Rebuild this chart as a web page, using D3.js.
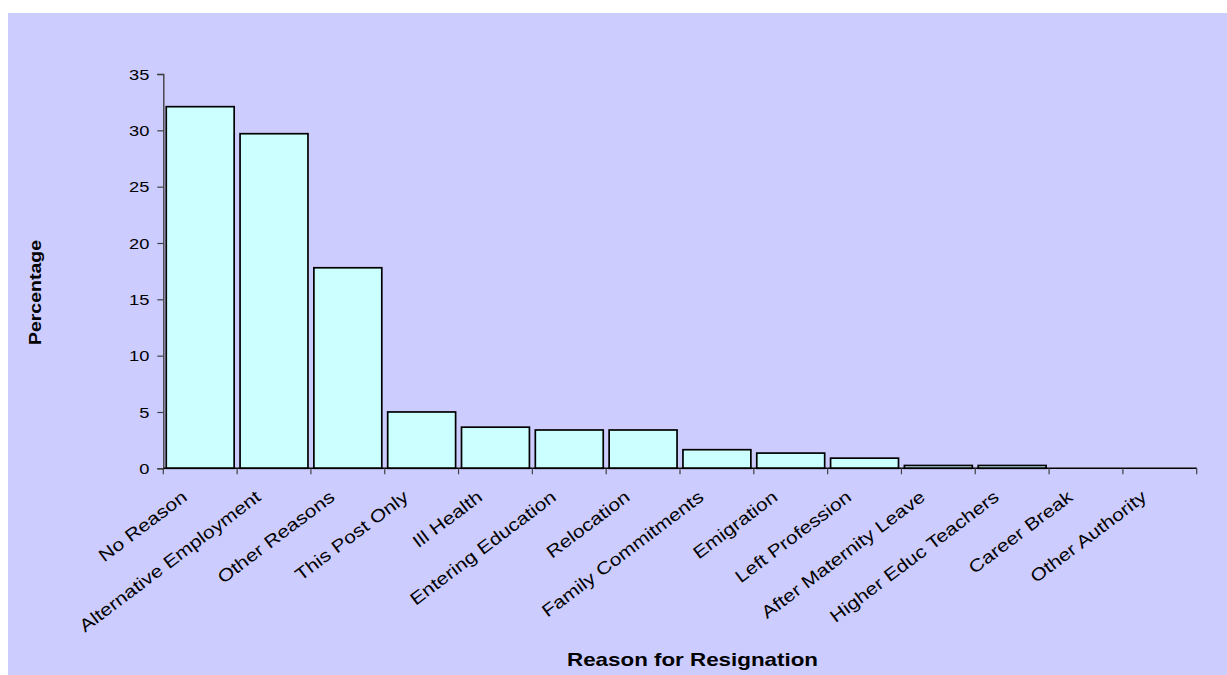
<!DOCTYPE html>
<html>
<head>
<meta charset="utf-8">
<script src="https://cdn.jsdelivr.net/npm/d3@7"></script>
<style>
  html, body { margin: 0; padding: 0; background: #ffffff; }
  svg { display: block; }
  text { font-family: "Liberation Sans", Arial, sans-serif; fill: #000; }
</style>
</head>
<body>
<svg id="chart" width="1227" height="675"></svg>
<script>
const categories = [
  "No Reason", "Alternative Employment", "Other Reasons", "This Post Only",
  "Ill Health", "Entering Education", "Relocation", "Family Commitments",
  "Emigration", "Left Profession", "After Maternity Leave",
  "Higher Educ Teachers", "Career Break", "Other Authority"
];
const percentages = [32.1, 29.7, 17.8, 5.0, 3.65, 3.4, 3.4, 1.65, 1.35, 0.9, 0.25, 0.25, 0, 0];
const yTicks = [0, 5, 10, 15, 20, 25, 30, 35];
const yTitle = "Percentage";
const xTitle = "Reason for Resignation";

const svg = d3.select("#chart");
const W = 1227, H = 675;
const plot = { left: 163.3, right: 1196.7, top: 74, bottom: 468.3 };

// background panel
svg.append("rect").attr("x", 8).attr("y", 13).attr("width", W - 8).attr("height", H - 13)
  .attr("fill", "#CCCCFF");

const x = d3.scaleBand().domain(categories).range([plot.left, plot.right])
  .paddingInner(0.08).paddingOuter(0.04);
const y = d3.scaleLinear().domain([0, 35]).range([plot.bottom, plot.top]);

// bars
svg.append("g").selectAll("rect").data(categories.map((c, i) => ({ c, v: percentages[i] })))
  .join("rect")
  .filter(d => d.v > 0)
  .attr("x", d => x(d.c))
  .attr("y", d => y(d.v))
  .attr("width", x.bandwidth())
  .attr("height", d => y(0) - y(d.v))
  .attr("fill", "#CCFFFF")
  .attr("stroke", "#000")
  .attr("stroke-width", 1.7);

// y axis
const yAxis = svg.append("g").attr("transform", `translate(${plot.left},0)`)
  .call(d3.axisLeft(y).tickValues(yTicks).tickSize(6).tickPadding(8).tickFormat(d3.format("d")));
yAxis.select(".domain").attr("stroke", "#404040").attr("stroke-width", 1.4);
yAxis.selectAll(".tick line").attr("stroke", "#404040").attr("stroke-width", 1.2);
yAxis.selectAll(".tick text")
  .attr("font-size", 15.5)
  .attr("font-family", "'Liberation Sans', Arial, sans-serif")
  .attr("fill", "#000")
  .attr("x", null).attr("dy", null)
  .attr("text-anchor", "end")
  .attr("dominant-baseline", "central")
  .attr("transform", "translate(-14,0) scale(1.18,1)");

// x axis: line + ticks at category boundaries
const xg = svg.append("g");
xg.append("line")
  .attr("x1", plot.left).attr("x2", plot.right)
  .attr("y1", y(0)).attr("y2", y(0))
  .attr("stroke", "#000").attr("stroke-width", 1.5);
const boundaries = d3.range(categories.length + 1).map(i => plot.left + i * (plot.right - plot.left) / categories.length);
xg.selectAll("line.tk").data(boundaries).join("line").attr("class", "tk")
  .attr("x1", d => d).attr("x2", d => d)
  .attr("y1", y(0)).attr("y2", y(0) + 6)
  .attr("stroke", "#404040").attr("stroke-width", 1.2);

// category labels (rotated)
xg.selectAll("text.cat").data(categories).join("text").attr("class", "cat")
  .attr("text-anchor", "end")
  .attr("font-size", 17.5)
  .attr("transform", d => `translate(${x(d) + x.bandwidth() / 2 - 12},${y(0) + 31}) rotate(-37) scale(1.2,1)`)
  .text(d => d);

// axis titles
svg.append("text")
  .attr("text-anchor", "middle")
  .attr("font-weight", "bold")
  .attr("font-size", 16)
  .attr("transform", `translate(41,292.5) rotate(-90) scale(1.22,1)`)
  .text(yTitle);

svg.append("text")
  .attr("text-anchor", "middle")
  .attr("font-weight", "bold")
  .attr("font-size", 18.5)
  .attr("transform", `translate(692.5,666) scale(1.21,1)`)
  .text(xTitle);
</script>
</body>
</html>
